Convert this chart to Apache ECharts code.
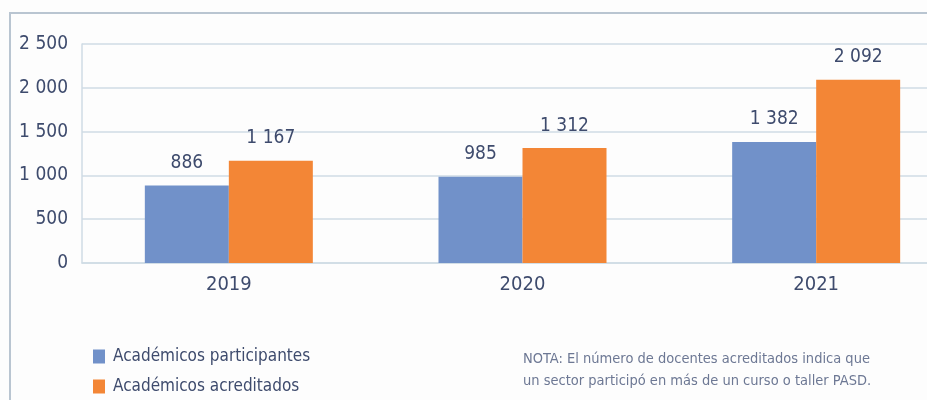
<!DOCTYPE html>
<html>
<head>
<meta charset="utf-8">
<script src="https://cdn.jsdelivr.net/npm/echarts@6/dist/echarts.min.js"></script>
<style>
  html, body { margin: 0; padding: 0; background: #fff; }
  #chart { width: 927px; height: 400px; }
</style>
</head>
<body>
<div id="chart"></div>
<script>
// datos
var years = ['2019', '2020', '2021'];
var participantes = [886, 985, 1382];
var acreditados = [1167, 1312, 2092];
var yTicks = [0, 500, 1000, 1500, 2000, 2500];

var FONT = '"DejaVu Sans Condensed", "Liberation Sans Narrow", sans-serif';
var TXT = '#3e4b6d';

function fmt(v) {
  // separador de miles con espacio
  return String(v).replace(/\B(?=(\d{3})+(?!\d))/g, ' ');
}

var chart = echarts.init(document.getElementById('chart'));
chart.setOption({
  animation: false,
  backgroundColor: '#fdfdfd',
  grid: { left: 82, right: -36, top: 44, bottom: 137, containLabel: false, outerBoundsMode: 'none' },
  legend: {
    orient: 'vertical',
    left: 88,
    top: 343,
    itemWidth: 12,
    itemHeight: 14,
    itemGap: 13,
    icon: 'rect',
    textStyle: { color: TXT, fontSize: 17, fontFamily: FONT, padding: [0, 0, 0, 3] },
    data: ['Académicos participantes', 'Académicos acreditados']
  },
  xAxis: {
    type: 'category',
    data: years,
    axisLine: { show: true, lineStyle: { color: '#cfdbe5', width: 1.5 } },
    axisTick: { show: false },
    axisLabel: { color: TXT, fontSize: 20, fontFamily: FONT, margin: 12 }
  },
  yAxis: {
    type: 'value',
    min: yTicks[0],
    max: yTicks[yTicks.length - 1],
    interval: 500,
    axisLine: { show: true, lineStyle: { color: '#cfdbe5', width: 1.5 } },
    axisTick: { show: false },
    splitLine: { lineStyle: { color: '#cfdbe5', width: 1.5 } },
    axisLabel: { color: TXT, fontSize: 19, fontFamily: FONT, margin: 14, formatter: fmt }
  },
  series: [
    {
      name: 'Académicos participantes',
      type: 'bar',
      data: participantes,
      barWidth: 84,
      barGap: '0%',
      itemStyle: { color: '#7191c9' },
      label: { show: true, position: 'top', distance: 13, color: TXT, fontSize: 19, fontFamily: FONT, formatter: function (p) { return fmt(p.value); } }
    },
    {
      name: 'Académicos acreditados',
      type: 'bar',
      data: acreditados,
      barWidth: 84,
      barGap: '0%',
      itemStyle: { color: '#f38636' },
      label: { show: true, position: 'top', distance: 13, color: TXT, fontSize: 19, fontFamily: FONT, formatter: function (p) { return fmt(p.value); } }
    }
  ],
  graphic: [
    {
      type: 'rect',
      z: -1,
      shape: { x: 10, y: 13, width: 940, height: 420 },
      style: { fill: 'none', stroke: '#b9c5d1', lineWidth: 2 }
    },
    {
      type: 'text',
      left: 523,
      top: 348,
      style: {
        text: 'NOTA: El número de docentes acreditados indica que\nun sector participó en más de un curso o taller PASD.',
        fill: '#6d7894',
        fontSize: 14.5,
        lineHeight: 22,
        fontFamily: FONT
      }
    }
  ]
});
</script>
</body>
</html>
